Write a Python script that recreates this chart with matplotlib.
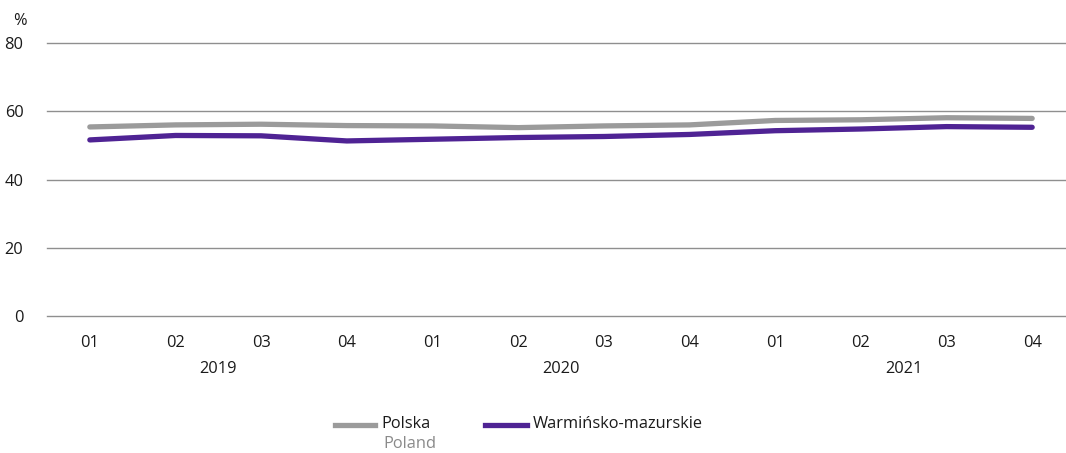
import matplotlib
matplotlib.use("Agg")
import matplotlib.pyplot as plt
from matplotlib.lines import Line2D

plt.rcParams['font.family'] = ['Open Sans', 'DejaVu Sans']

quarters = ["01", "02", "03", "04"] * 3
years = ["2019", "2020", "2021"]
polska = [55.4, 56.0, 56.2, 55.8, 55.7, 55.2, 55.7, 56.0, 57.3, 57.5, 58.1, 57.9]
warminsko = [51.6, 52.9, 52.8, 51.3, 51.8, 52.3, 52.6, 53.2, 54.3, 54.8, 55.5, 55.3]
yticks = [0, 20, 40, 60, 80]

GRAY = "#9b9b9b"
PURPLE = "#4f2394"
TXT = "#1a1a1a"

W, H = 1066, 453
fig = plt.figure(figsize=(W / 100, H / 100), dpi=100)
ax = fig.add_axes([47 / W, 137 / H, 1028 / W, 273 / H])

x = list(range(len(quarters)))
ax.plot(x, polska, color=GRAY, lw=3.8, solid_capstyle="round", solid_joinstyle="round", zorder=3)
ax.plot(x, warminsko, color=PURPLE, lw=3.8, solid_capstyle="round", solid_joinstyle="round", zorder=4)

ax.set_xlim(-0.5, len(quarters) - 0.5)
ax.set_ylim(0, 80)
ax.set_yticks(yticks)
ax.set_yticklabels([str(v) for v in yticks])
for v in yticks:
    ax.axhline(v, color="#8f8f8f", lw=1.0, zorder=1, clip_on=False)
for s in ax.spines.values():
    s.set_visible(False)
ax.tick_params(axis="y", length=0, pad=17, labelsize=11.8, labelcolor=TXT)
ax.set_xticks(x)
ax.set_xticklabels(quarters)
ax.tick_params(axis="x", length=0, pad=14, labelsize=11.8, labelcolor=TXT)

# year labels centred under each group of four quarters
for i, yr in enumerate(years):
    ax.text(i * 4 + 1.5, -15.5, yr, ha="center", va="center", fontsize=11.8, color=TXT,
            transform=ax.transData, clip_on=False)

fig.text(13 / W, 1 - 21 / H, "%", ha="left", va="center", fontsize=11.8, color=TXT)

# legend
fig.add_artist(Line2D([335 / W, 375 / W], [1 - 425 / H] * 2, color=GRAY, lw=3.8))
fig.text(381 / W, 1 - 424 / H, "Polska", ha="left", va="center", fontsize=11.8, color=TXT)
fig.text(383 / W, 1 - 444 / H, "Poland", ha="left", va="center", fontsize=11.8, color="#8a8a8a")
fig.add_artist(Line2D([485 / W, 527 / W], [1 - 425 / H] * 2, color=PURPLE, lw=3.8))
fig.text(533 / W, 1 - 424 / H, "Warmińsko-mazurskie", ha="left", va="center", fontsize=11.8, color=TXT)

fig.savefig("out.png", dpi=100)
